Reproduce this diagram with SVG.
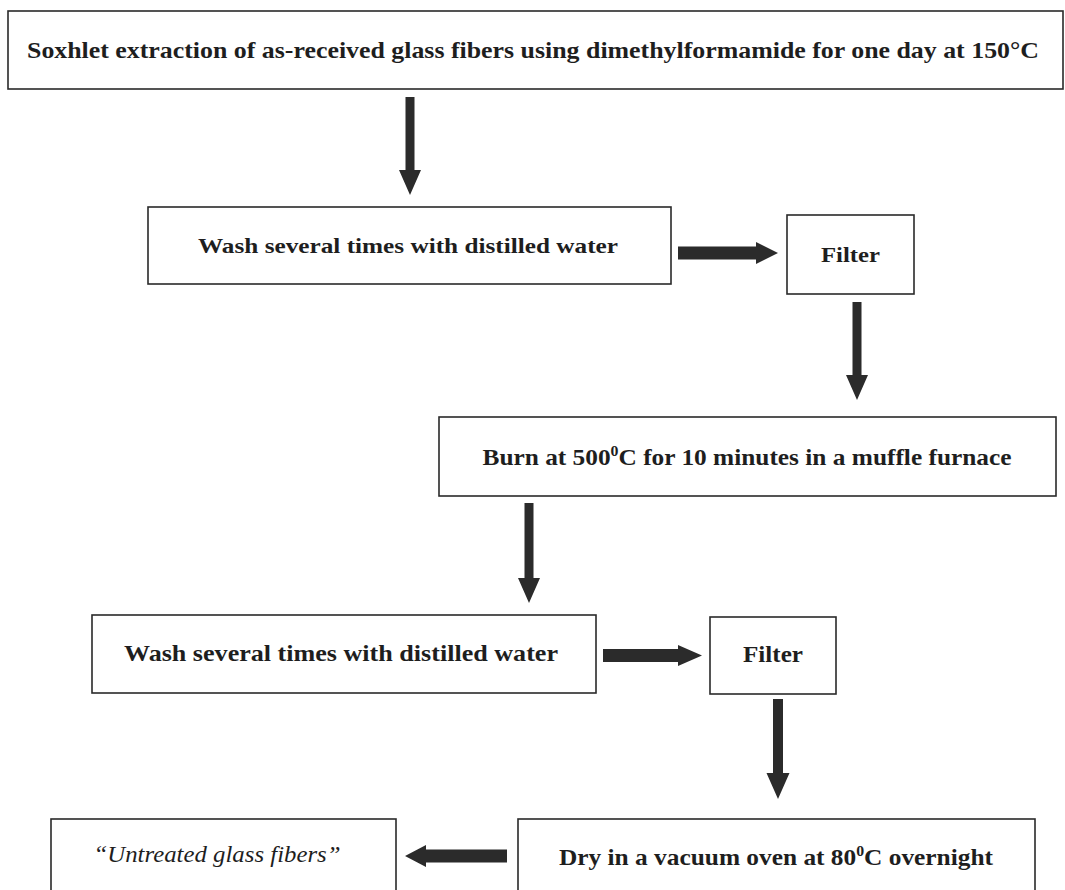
<svg xmlns="http://www.w3.org/2000/svg" width="1065" height="890" viewBox="0 0 1065 890">
<style>
.box{fill:#fff;stroke:#2a2a2a;stroke-width:1.6}
.t{font-family:"Liberation Serif","Times New Roman",serif;font-weight:bold;fill:#1e1e1e;text-anchor:middle}
.it{font-family:"Liberation Serif","Times New Roman",serif;font-style:italic;fill:#1e1e1e;text-anchor:middle}
.arr{fill:#2b2b2b}
</style>
<rect width="1065" height="890" fill="#fff"/>
<g id="n1"><rect class="box" x="8" y="11" width="1055" height="78"/>
<text class="t" x="533" y="58" font-size="24" textLength="1012" lengthAdjust="spacingAndGlyphs">Soxhlet extraction of as-received glass fibers using dimethylformamide for one day at 150°C</text></g>
<g id="n2"><rect class="box" x="148" y="207" width="523" height="77"/>
<text class="t" x="408" y="253" font-size="22" textLength="420" lengthAdjust="spacingAndGlyphs">Wash several times with distilled water</text></g>
<g id="n3"><rect class="box" x="787" y="215" width="127" height="79"/>
<text class="t" x="850.5" y="262" font-size="22" textLength="59" lengthAdjust="spacingAndGlyphs">Filter</text></g>
<g id="n4"><rect class="box" x="439" y="417" width="617" height="79"/>
<text class="t" x="747" y="465" font-size="24" textLength="529" lengthAdjust="spacingAndGlyphs">Burn at 500<tspan font-size="15" dy="-9">0</tspan><tspan dy="9">C for 10 minutes in a muffle furnace</tspan></text></g>
<g id="n5"><rect class="box" x="92" y="615" width="504" height="78"/>
<text class="t" x="341" y="661" font-size="24" textLength="434" lengthAdjust="spacingAndGlyphs">Wash several times with distilled water</text></g>
<g id="n6"><rect class="box" x="710" y="617" width="126" height="77"/>
<text class="t" x="773" y="662" font-size="23" textLength="60" lengthAdjust="spacingAndGlyphs">Filter</text></g>
<g id="n7"><rect class="box" x="518" y="819" width="517" height="80"/>
<text class="t" x="776" y="865" font-size="24" textLength="434" lengthAdjust="spacingAndGlyphs">Dry in a vacuum oven at 80<tspan font-size="15" dy="-9">0</tspan><tspan dy="9">C overnight</tspan></text></g>
<g id="n8"><rect class="box" x="51" y="819" width="345" height="80"/>
<text class="it" x="217" y="862" font-size="24" textLength="247" lengthAdjust="spacingAndGlyphs">“Untreated glass fibers”</text></g>
<g id="connectors">
<polygon class="arr" points="405.5,97 414.5,97 414.5,170 421,170 410,195 399,170 405.5,170"/>
<polygon class="arr" points="678,246.5 756,246.5 756,242 778,253 756,264 756,259.5 678,259.5"/>
<polygon class="arr" points="852.5,302 861.5,302 861.5,375 868,375 857,400 846,375 852.5,375"/>
<polygon class="arr" points="524.5,503 533.5,503 533.5,578 540,578 529,603 518,578 524.5,578"/>
<polygon class="arr" points="603,649 678,649 678,645 702,655.5 678,666 678,662 603,662"/>
<polygon class="arr" points="773,699 783,699 783,773 789.5,773 778,799 766.5,773 773,773"/>
<polygon class="arr" points="507,849.5 426,849.5 426,845 405,856 426,867 426,862.5 507,862.5"/>
</g>
</svg>
